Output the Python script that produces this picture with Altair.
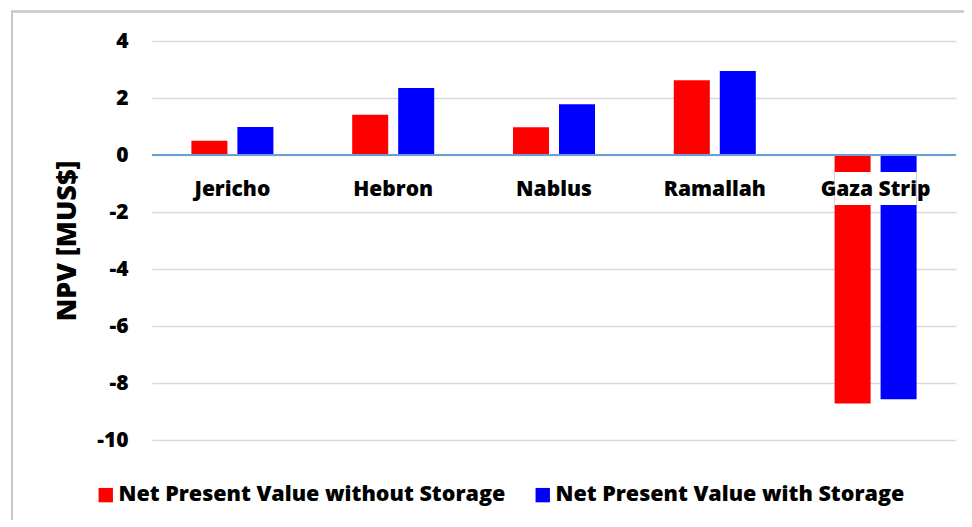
import altair as alt
import pandas as pd

categories = ["Jericho", "Hebron", "Nablus", "Ramallah", "Gaza Strip"]
series_names = ["Net Present Value without Storage", "Net Present Value with Storage"]
without_storage = [0.50, 1.41, 0.97, 2.62, -8.72]
with_storage = [0.98, 2.35, 1.78, 2.95, -8.57]
y_ticks = [-10, -8, -6, -4, -2, 0, 2, 4]

rows = []
for c, a, b in zip(categories, without_storage, with_storage):
    rows.append({"category": c, "series": series_names[0], "value": a})
    rows.append({"category": c, "series": series_names[1], "value": b})
df = pd.DataFrame(rows)
cat_df = pd.DataFrame({"category": categories})

FONT = "Open Sans"
W = 800

x_scale = alt.Scale(domain=categories, paddingInner=0.49, paddingOuter=0.245)
x_enc = alt.X("category:N", scale=x_scale, axis=None, sort=categories)

bars = alt.Chart(df).mark_bar().encode(
    x=x_enc,
    xOffset=alt.XOffset("series:N", sort=series_names,
                        scale=alt.Scale(domain=series_names, paddingInner=0.217, paddingOuter=0)),
    y=alt.Y("value:Q",
            scale=alt.Scale(domain=[-10, 4], nice=False, zero=False),
            axis=alt.Axis(values=y_ticks, title="NPV [MUS$]", grid=True, gridColor="#d9d9d9",
                          gridWidth=1.3, domain=False, ticks=False, labelPadding=24,
                          labelExpr="'' + datum.value",
                          labelFont=FONT, labelFontSize=21, labelFontWeight=W, labelColor="#000000",
                          titleFont=FONT, titleFontSize=27, titleFontWeight=W, titleColor="#000000",
                          titlePadding=15)),
    color=alt.Color("series:N", sort=series_names,
                    scale=alt.Scale(domain=series_names, range=["#ff0000", "#0000ff"]),
                    legend=alt.Legend(title=None, orient="none", direction="horizontal",
                                      legendX=-57, legendY=443, symbolType="square", symbolSize=207,
                                      symbolStrokeWidth=0, symbolOpacity=1, labelFont=FONT,
                                      labelFontSize=21.5, labelFontWeight=W, labelColor="#000000",
                                      labelOffset=2, columnPadding=26, padding=0, labelLimit=600)),
)

zero_rule = alt.Chart(cat_df).mark_rule(color="#6a9fd8", strokeWidth=1.5).encode(
    y=alt.datum(0)
)

label_bg = alt.Chart(cat_df).mark_rect(fill="#ffffff").encode(
    x=x_enc,
    y=alt.value(131),
    y2=alt.value(164),
)

labels = alt.Chart(cat_df).mark_text(font=FONT, fontSize=21, fontWeight=W, color="#000000",
                                     baseline="middle", align="center").encode(
    x=x_enc,
    y=alt.value(149),
    text="category:N",
)

frame = alt.Chart(cat_df).mark_rect(fill="transparent", stroke="#c8c8c8", strokeWidth=1.5).encode(
    x=alt.value(-140),
    x2=alt.value(840),
    y=alt.value(-29.5),
    y2=alt.value(510),
)

chart = alt.layer(frame, bars, zero_rule, label_bg, labels).properties(
    width=804,
    height=399,
    autosize=alt.AutoSizeParams(type="none"),
    padding={"left": 144, "top": 33, "right": 8, "bottom": 80},
    background="#ffffff",
).configure_view(stroke=None)

chart.save("out.html", embed_options={"renderer": "svg", "actions": False})
